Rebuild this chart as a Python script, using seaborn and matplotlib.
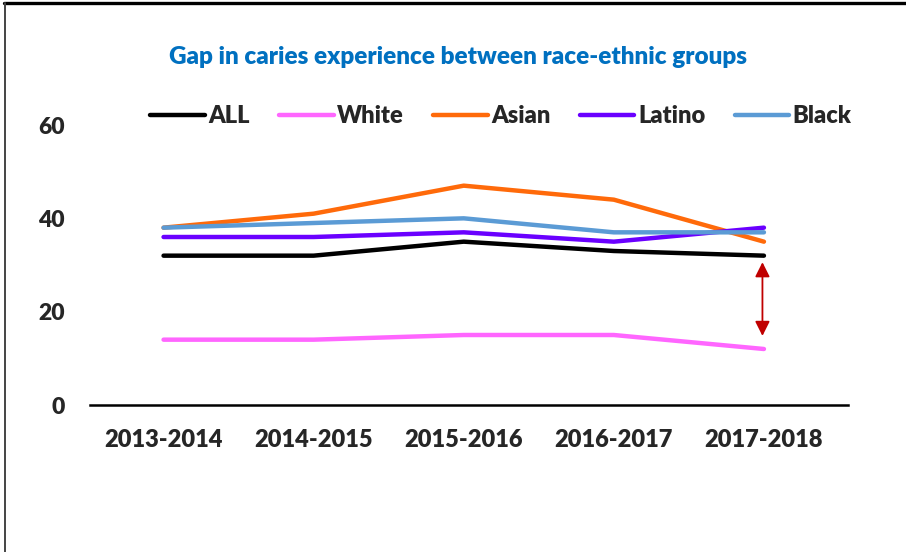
import pandas as pd
import seaborn as sns
import matplotlib.pyplot as plt
from matplotlib.lines import Line2D

# ------------------------------- dados ------------------------------- #
anos = ['2013-2014', '2014-2015', '2015-2016', '2016-2017', '2017-2018']
grupos = ['ALL', 'White', 'Asian', 'Latino', 'Black']
all_vals = [32, 32, 35, 33, 32]
white_vals = [14, 14, 15, 15, 12]
asian_vals = [38, 41, 47, 44, 35]
latino_vals = [36, 36, 37, 35, 38]
black_vals = [38, 39, 40, 37, 37]
cores = ['#000000', '#FF66FF', '#FF6A0A', '#6A00FF', '#5B9BD5']

valores = [all_vals, white_vals, asian_vals, latino_vals, black_vals]
df = pd.DataFrame({
    'ano': anos * len(grupos),
    'pos': list(range(len(anos))) * len(grupos),
    'grupo': [g for g in grupos for _ in anos],
    'valor': [v for serie in valores for v in serie],
})

# ------------------------------ gráfico ------------------------------ #
sns.set_style('white')
plt.rcParams['font.family'] = ['Lato', 'DejaVu Sans']
peso = 'heavy'

fig = plt.figure(figsize=(9.06, 5.52), dpi=100)
ax = fig.add_axes([90 / 906, 1 - 405 / 552, (848 - 90) / 906, (405 - 125) / 552])

sns.lineplot(data=df, x='pos', y='valor', hue='grupo', hue_order=grupos,
             palette=dict(zip(grupos, cores)), linewidth=3.2, ax=ax,
             solid_capstyle='round', clip_on=False)

ax.set_xlim(-0.49, 4.56)
ax.set_ylim(0, 60)
ax.set_xticks(range(len(anos)))
ax.set_xticklabels(anos, fontsize=17, fontweight=peso)
ax.set_yticks([0, 20, 40, 60])
ax.set_yticklabels(['0', '20', '40', '60'], fontsize=16.5, fontweight=peso)
ax.tick_params(axis='x', length=0, pad=17)
ax.tick_params(axis='y', length=0, pad=18)
ax.set_xlabel('')
ax.set_ylabel('')
for lado in ['top', 'right', 'left']:
    ax.spines[lado].set_visible(False)
ax.spines['bottom'].set_color('black')
ax.spines['bottom'].set_linewidth(1.8)

# seta vermelha entre ALL e White
ax.annotate('', xy=(3.99, 14.8), xytext=(3.99, 30.6),
            arrowprops=dict(arrowstyle='<|-|>', color='#C00000', lw=1.3,
                            mutation_scale=22, shrinkA=0, shrinkB=0))

handles, labels = ax.get_legend_handles_labels()
ax.legend(handles, labels, ncol=5, loc='center', frameon=False,
          bbox_to_anchor=(501 / 906, 1 - 116 / 552), bbox_transform=fig.transFigure,
          handlelength=2.3, handletextpad=0.15, columnspacing=1.25,
          prop={'weight': peso, 'size': 17})

fig.text(458 / 906, 1 - 57 / 552, 'Gap in caries experience between race-ethnic groups',
         ha='center', va='center', color='#0070C0', fontsize=17.5, fontweight=peso)

# moldura
fig.add_artist(Line2D([4 / 906, 1], [1 - 3 / 552, 1 - 3 / 552], color='black', lw=2.4,
                      transform=fig.transFigure))
fig.add_artist(Line2D([4.5 / 906, 4.5 / 906], [0, 1 - 3 / 552], color='#444444', lw=1.4,
                      transform=fig.transFigure))

fig.savefig('out.png', dpi=100, facecolor='white')
